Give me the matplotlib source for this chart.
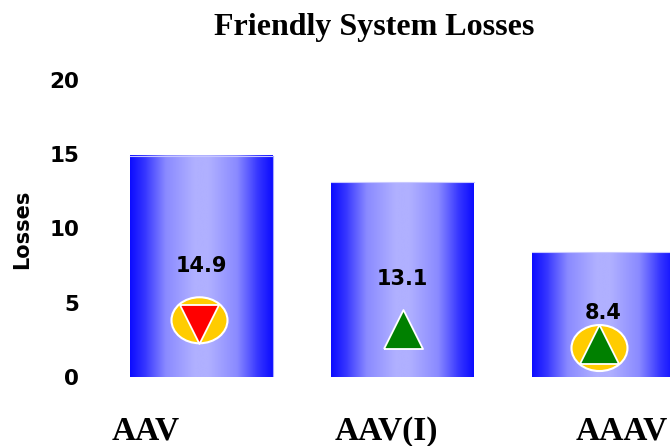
# -*- coding: utf-8 -*-
"""Friendly system losses bar chart with gradient bars and status markers."""
import numpy as np
import matplotlib
matplotlib.use("Agg")
import matplotlib.pyplot as plt
from matplotlib.colors import LinearSegmentedColormap
from matplotlib.patches import Ellipse
from matplotlib.path import Path

categories = ["AAV", "AAV(I)", "AAAV"]
losses = [14.9, 13.1, 8.4]
value_label_y = [7.45, 6.6, 4.3]
yticks = [0, 5, 10, 15, 20]

# marker centre, direction of the triangle and whether it has the yellow disc
marker_x = [-0.01, 1.0, 1.98]
triangle_y = [3.57, 3.2, 2.19]
disc_y = [3.82, 3.1, 1.95]
marker_up = [False, True, True]
marker_color = ["#ff0000", "#008000", "#008000"]
marker_disc = [True, False, True]

# category labels do not sit quite under the bars in the original
label_x = [-0.276, 0.92, 2.09]

W, H = 670, 446
BAR_W = 143 / 201
X0, Y0, Y_TOP = 100, 377, 80

blue_cmap = LinearSegmentedColormap.from_list(
    "bar_blue",
    [(0.0, "#0c0cff"), (0.1, "#3434ff"), (0.25, "#8a8aff"), (0.45, "#b0b0ff"),
     (0.55, "#b0b0ff"), (0.75, "#8a8aff"), (0.9, "#3434ff"), (1.0, "#0c0cff")],
)
TRIANGLE_UP = Path([(-0.5, -0.5), (0.5, -0.5), (0, 0.5), (-0.5, -0.5)])
TRIANGLE_DOWN = Path([(-0.5, 0.5), (0.5, 0.5), (0, -0.5), (-0.5, 0.5)])

fig = plt.figure(figsize=(W / 100, H / 100), dpi=100)
ax = fig.add_axes([X0 / W, 1 - Y0 / H, (W - X0) / W, (Y0 - Y_TOP) / H])

gradient = np.linspace(0, 1, 256).reshape(1, -1)
for i, val in enumerate(losses):
    ax.imshow(gradient, cmap=blue_cmap, aspect="auto", zorder=1,
              extent=(i - BAR_W / 2, i + BAR_W / 2, 0, val))
    ax.plot([i - BAR_W / 2, i + BAR_W / 2], [val, val], color="#c8c8ff", lw=0.8, zorder=2)

# the first bar also shows a pale right edge
ax.plot([BAR_W / 2, BAR_W / 2], [0, losses[0]], color="#a8a8ff", lw=0.8, zorder=2)

ax.set_xlim((X0 - 201.5) / 201, (W - 201.5) / 201)
ax.set_ylim(0, 20)

for i, val in enumerate(losses):
    ax.text(i, value_label_y[i], "{:.1f}".format(val), ha="center", va="center",
            fontsize=15, fontweight="bold", family="DejaVu Sans", color="black", zorder=5,
            clip_on=False)

for mx, ty, dy, up, color, disc in zip(marker_x, triangle_y, disc_y, marker_up,
                                       marker_color, marker_disc):
    if disc:
        ax.add_patch(Ellipse((mx, dy), 56 / 201, 46 / 14.85, facecolor="#ffcc00",
                             edgecolor="white", linewidth=1.5, zorder=3))
    ax.scatter([mx], [ty], s=(39 * 0.72) ** 2, zorder=4,
               marker=TRIANGLE_UP if up else TRIANGLE_DOWN, facecolor=color,
               edgecolor="white", linewidth=1.3)

for side in ax.spines.values():
    side.set_visible(False)
ax.patch.set_visible(False)

ax.set_yticks(yticks)
ax.set_yticklabels([str(t) for t in yticks], fontsize=15.5, fontweight="bold",
                   family="DejaVu Sans")
ax.tick_params(axis="y", length=0, pad=15)

ax.set_xticks(label_x)
ax.set_xticklabels(categories, fontsize=24, fontweight="bold", family="Liberation Serif")
ax.tick_params(axis="x", length=0, pad=28)

fig.text(22 / W, 1 - 229 / H, "Losses", rotation=90, ha="center", va="center",
         fontsize=15, fontweight="bold", family="DejaVu Sans")
fig.text(374 / W, 1 - 27 / H, "Friendly System Losses", ha="center", va="center",
         fontsize=23, fontweight="bold", family="Liberation Serif")

fig.savefig("out.png", dpi=100)
plt.close(fig)
